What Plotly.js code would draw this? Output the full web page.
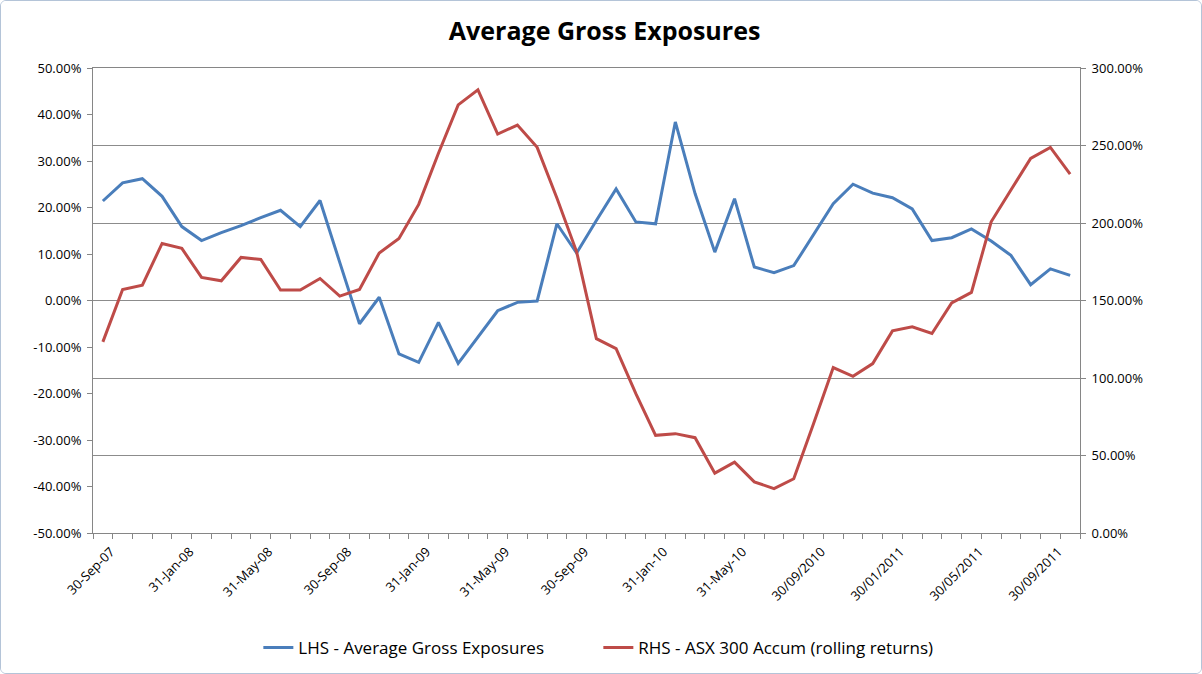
<!DOCTYPE html>
<html>
<head>
<meta charset="utf-8">
<script src="https://cdn.plot.ly/plotly-3.0.1.min.js"></script>
<style>
  html, body { margin: 0; padding: 0; background: #ffffff; }
  #chart { width: 1202px; height: 674px; box-sizing: border-box; border: 1px solid #b4c4d8; border-radius: 6px; overflow: hidden; }
</style>
</head>
<body>
<div id="chart"></div>
<script>
// Month-end categories, Sep-2007 .. Oct-2011 (50 months)
const months = [
  "30-Sep-07","31-Oct-07","30-Nov-07","31-Dec-07","31-Jan-08","29-Feb-08","31-Mar-08","30-Apr-08",
  "31-May-08","30-Jun-08","31-Jul-08","31-Aug-08","30-Sep-08","31-Oct-08","30-Nov-08","31-Dec-08",
  "31-Jan-09","28-Feb-09","31-Mar-09","30-Apr-09","31-May-09","30-Jun-09","31-Jul-09","31-Aug-09",
  "30-Sep-09","31-Oct-09","30-Nov-09","31-Dec-09","31-Jan-10","28-Feb-10","31-Mar-10","30-Apr-10",
  "31-May-10","30-Jun-10","31-Jul-10","31-Aug-10","30/09/2010","31/10/2010","30/11/2010","31/12/2010",
  "30/01/2011","28/02/2011","31/03/2011","30/04/2011","30/05/2011","30/06/2011","31/07/2011","31/08/2011",
  "30/09/2011","31/10/2011"
];

// Tick labels shown on the category axis (every 4th month)
const tickLabels = [
  "30-Sep-07","31-Jan-08","31-May-08","30-Sep-08","31-Jan-09","31-May-09","30-Sep-09",
  "31-Jan-10","31-May-10","30/09/2010","30/01/2011","30/05/2011","30/09/2011"
];

// LHS - Average Gross Exposures (%)
const grossExposure = [
  21.4, 25.3, 26.2, 22.4, 15.9, 12.9, 14.6, 16.1, 17.8, 19.4,
  15.9, 21.5, 8.2, -5.0, 0.7, -11.5, -13.3, -4.7, -13.5, -7.8,
  -2.2, -0.4, -0.1, 16.5, 10.2, 17.2, 24.0, 16.9, 16.5, 38.4,
  23.0, 10.4, 21.9, 7.2, 6.0, 7.5, 14.2, 20.8, 25.0, 23.1,
  22.1, 19.7, 12.9, 13.5, 15.4, 12.8, 9.7, 3.4, 6.8, 5.4
];

// RHS - ASX 300 Accum (rolling returns) (%)
const asx300 = [
  123.3, 157.1, 159.9, 186.8, 183.6, 164.9, 162.7, 177.8, 176.5, 156.7,
  156.7, 164.2, 152.8, 157.1, 180.7, 190.0, 212.0, 245.0, 276.2, 285.9,
  257.4, 263.2, 248.8, 216.1, 181.4, 125.4, 119.0, 89.9, 63.0, 64.1,
  61.5, 38.6, 45.7, 33.0, 28.6, 35.0, 70.5, 106.7, 101.1, 109.3,
  130.4, 133.0, 128.7, 148.4, 155.2, 200.8, 221.3, 241.7, 248.8, 231.6
];

const leftTicks = [-50, -40, -30, -20, -10, 0, 10, 20, 30, 40, 50];
const rightTicks = [0, 50, 100, 150, 200, 250, 300];

const xIdx = months.map((_, i) => i);
const tickIdx = tickLabels.map(l => months.indexOf(l));

const FONT = "'Open Sans', 'Noto Sans', 'Liberation Sans', sans-serif";
const AXIS = "#868686";

const traces = [
  {
    x: xIdx, y: grossExposure, text: months, name: "LHS - Average Gross Exposures",
    type: "scatter", mode: "lines", yaxis: "y",
    line: { color: "#4a7ebb", width: 3 },
    hovertemplate: "%{text}: %{y:.2f}%<extra></extra>"
  },
  {
    x: xIdx, y: asx300, text: months, name: "RHS - ASX 300 Accum (rolling returns)",
    type: "scatter", mode: "lines", yaxis: "y2",
    line: { color: "#be4b48", width: 3 },
    hovertemplate: "%{text}: %{y:.2f}%<extra></extra>"
  }
];

const layout = {
  width: 1200, height: 672,
  margin: { l: 92, r: 121, t: 67, b: 140, autoexpand: false },
  paper_bgcolor: "#ffffff", plot_bgcolor: "#ffffff",
  font: { family: FONT, size: 13, color: "#000000" },
  title: {
    text: "<b>Average Gross Exposures</b>",
    font: { family: FONT, size: 25, color: "#000000" },
    x: 0.503, xanchor: "center", y: 0.955, yanchor: "middle", yref: "container"
  },
  showlegend: true,
  legend: {
    orientation: "h", x: 0.512, xanchor: "center", y: -0.247, yanchor: "middle",
    font: { family: FONT, size: 17, color: "#000000" },
    itemwidth: 30, tracegroupgap: 0, bgcolor: "rgba(0,0,0,0)",
    entrywidth: 295, entrywidthmode: "pixels"
  },
  xaxis: {
    range: [-0.5, months.length - 0.5], automargin: false,
    tickmode: "array", tickvals: tickIdx, ticktext: tickLabels,
    tickangle: -45, ticks: "", ticklen: 0, ticklabelstandoff: 5, ticklabelshift: 8,
    tickfont: { family: FONT, size: 13, color: "#000000" },
    minor: { tickmode: "linear", tick0: -0.5, dtick: 1, ticks: "outside", ticklen: 5, tickcolor: AXIS, showgrid: false },
    showgrid: false, zeroline: false,
    showline: true, linecolor: AXIS, linewidth: 1, mirror: true,
    fixedrange: true
  },
  yaxis: {
    range: [-50, 50], automargin: false,
    tickmode: "array", tickvals: leftTicks, ticktext: leftTicks.map(v => v.toFixed(2) + "%"),
    ticks: "outside", ticklen: 5, tickcolor: AXIS, ticklabelstandoff: 3,
    tickfont: { family: FONT, size: 13, color: "#000000" },
    showgrid: false, zeroline: false,
    showline: true, linecolor: AXIS, linewidth: 1,
    fixedrange: true
  },
  yaxis2: {
    range: [0, 300], overlaying: "y", side: "right", automargin: false,
    tickmode: "array", tickvals: rightTicks, ticktext: rightTicks.map(v => v.toFixed(2) + "%"),
    ticks: "outside", ticklen: 5, tickcolor: AXIS, ticklabelstandoff: 3,
    tickfont: { family: FONT, size: 13, color: "#000000" },
    showgrid: true, gridcolor: "#8c8c8c", gridwidth: 1, zeroline: false,
    showline: true, linecolor: AXIS, linewidth: 1,
    fixedrange: true
  }
};

Plotly.newPlot("chart", traces, layout, { displayModeBar: false, responsive: false });
</script>
</body>
</html>
